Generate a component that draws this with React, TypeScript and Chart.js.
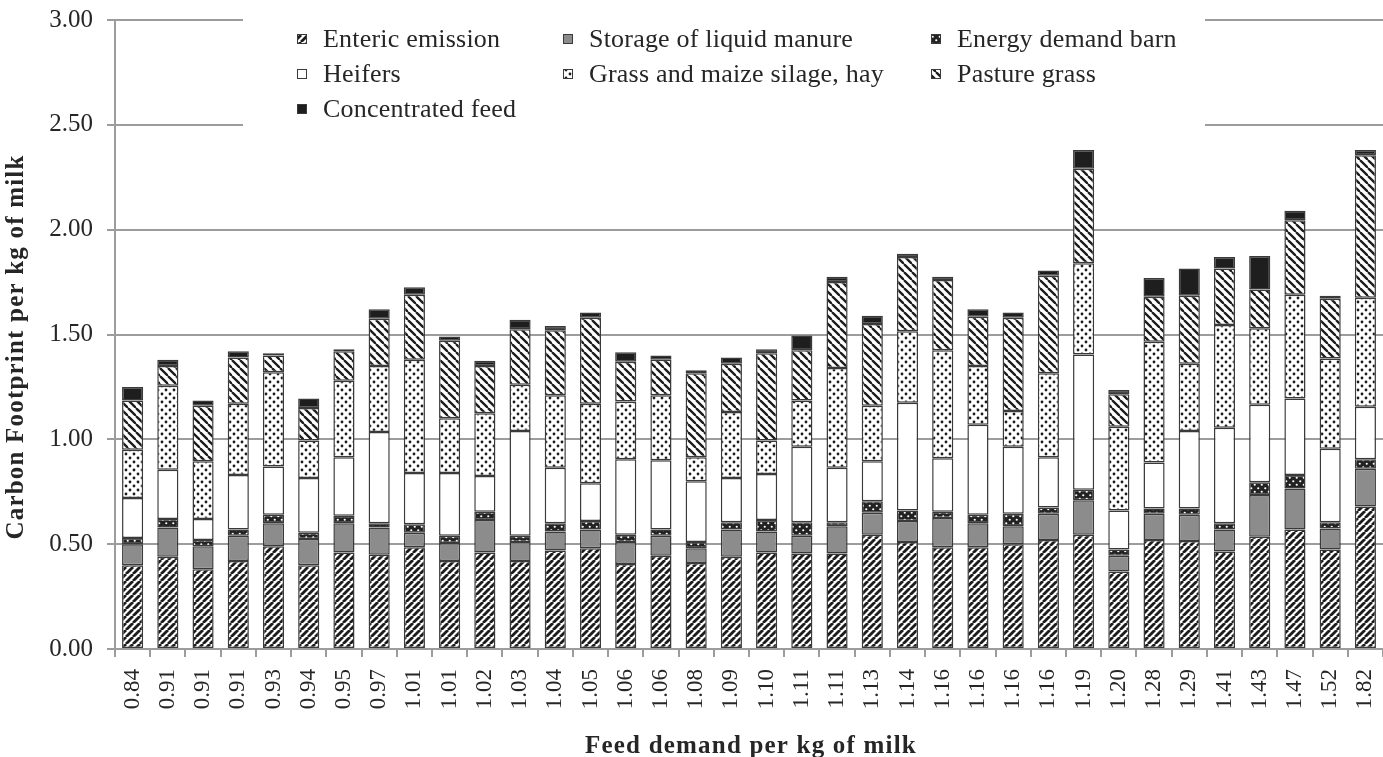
import React, { useEffect, useRef } from "react";
import { Chart, registerables } from "chart.js";

Chart.register(...registerables);

const feedDemand = ["0.84","0.91","0.91","0.91","0.93","0.94","0.95","0.97","1.01","1.01","1.02","1.03","1.04","1.05","1.06","1.06","1.08","1.09","1.10","1.11","1.11","1.13","1.14","1.16","1.16","1.16","1.16","1.19","1.20","1.28","1.29","1.41","1.43","1.47","1.52","1.82"];

const entericEmission = [0.40,0.44,0.38,0.42,0.49,0.40,0.46,0.45,0.485,0.42,0.46,0.42,0.47,0.48,0.405,0.445,0.41,0.44,0.46,0.455,0.455,0.545,0.51,0.485,0.485,0.50,0.52,0.545,0.37,0.52,0.515,0.465,0.535,0.57,0.475,0.68];
const storageLiquidManure = [0.10,0.14,0.11,0.12,0.11,0.125,0.14,0.13,0.07,0.085,0.155,0.09,0.09,0.09,0.105,0.095,0.07,0.13,0.10,0.085,0.13,0.105,0.10,0.14,0.115,0.085,0.125,0.165,0.075,0.125,0.125,0.105,0.20,0.195,0.10,0.18];
const energyDemandBarn = [0.03,0.04,0.03,0.03,0.04,0.03,0.035,0.02,0.04,0.035,0.04,0.03,0.04,0.04,0.035,0.03,0.03,0.035,0.055,0.065,0.02,0.055,0.05,0.03,0.04,0.06,0.03,0.05,0.03,0.025,0.03,0.03,0.06,0.065,0.03,0.045];
const heifers = [0.19,0.235,0.10,0.26,0.23,0.26,0.28,0.435,0.245,0.30,0.17,0.50,0.265,0.18,0.36,0.33,0.29,0.21,0.22,0.36,0.26,0.19,0.515,0.255,0.43,0.32,0.24,0.645,0.185,0.22,0.37,0.455,0.37,0.365,0.35,0.25];
const grassMaizeSilageHay = [0.23,0.40,0.275,0.34,0.45,0.18,0.365,0.315,0.54,0.26,0.30,0.22,0.345,0.38,0.275,0.31,0.115,0.315,0.16,0.22,0.475,0.265,0.34,0.515,0.28,0.17,0.40,0.435,0.40,0.575,0.32,0.49,0.365,0.495,0.43,0.52];
const pastureGrass = [0.235,0.095,0.265,0.22,0.08,0.155,0.14,0.225,0.31,0.37,0.225,0.265,0.31,0.41,0.19,0.17,0.40,0.23,0.415,0.24,0.41,0.39,0.355,0.335,0.235,0.445,0.465,0.45,0.155,0.215,0.325,0.27,0.185,0.355,0.285,0.68];
const concentratedFeed = [0.065,0.03,0.025,0.03,0.01,0.045,0.01,0.045,0.035,0.02,0.025,0.045,0.02,0.025,0.045,0.02,0.015,0.03,0.02,0.07,0.025,0.04,0.015,0.015,0.035,0.025,0.025,0.09,0.02,0.09,0.13,0.055,0.16,0.045,0.015,0.025];

const yTickValues = [0, 0.5, 1.0, 1.5, 2.0, 2.5, 3.0];

const seriesNames = [
  "Enteric emission",
  "Storage of liquid manure",
  "Energy demand barn",
  "Heifers",
  "Grass and maize silage, hay",
  "Pasture grass",
  "Concentrated feed",
];

const FONT = '"Liberation Serif", "Times New Roman", Times, serif';
const GRID = "#9c9c9c";
const TEXT = "#262626";
const EDGE = "#3a3a3a";

function makeHatch(ctx: CanvasRenderingContext2D, dir: number, p: number, lw: number) {
  const c = document.createElement("canvas");
  c.width = p; c.height = p;
  const g = c.getContext("2d")!;
  g.fillStyle = "#ffffff";
  g.fillRect(0, 0, p, p);
  g.strokeStyle = "#1c1c1c";
  g.lineWidth = lw;
  for (const o of [-p, 0, p]) {
    g.beginPath();
    if (dir > 0) { g.moveTo(o, p); g.lineTo(o + p, 0); }
    else { g.moveTo(o, 0); g.lineTo(o + p, p); }
    g.stroke();
  }
  return ctx.createPattern(c, "repeat")!;
}

function makeDots(ctx: CanvasRenderingContext2D, p: number, r: number, bg: string, fg: string) {
  const c = document.createElement("canvas");
  c.width = p; c.height = p;
  const g = c.getContext("2d")!;
  g.fillStyle = bg;
  g.fillRect(0, 0, p, p);
  g.fillStyle = fg;
  for (const [x, y] of [[p / 4, p / 4], [(3 * p) / 4, (3 * p) / 4]]) {
    g.beginPath();
    g.arc(x, y, r, 0, Math.PI * 2);
    g.fill();
  }
  return ctx.createPattern(c, "repeat")!;
}

export default function App() {
  const ref = useRef<HTMLCanvasElement>(null);

  useEffect(() => {
    const canvas = ref.current!;
    const ctx = canvas.getContext("2d")!;
    const fills: any[] = [
      makeHatch(ctx, 1, 7, 2.8),
      "#8c8c8c",
      makeDots(ctx, 7, 1.1, "#222222", "#ffffff"),
      "#ffffff",
      makeDots(ctx, 8, 1.4, "#ffffff", "#1c1c1c"),
      makeHatch(ctx, -1, 8, 2.3),
      "#1e1e1e",
    ];
    const values = [
      entericEmission,
      storageLiquidManure,
      energyDemandBarn,
      heifers,
      grassMaizeSilageHay,
      pastureGrass,
      concentratedFeed,
    ];

    const legendPos = [
      [297, 39], [563, 39], [931, 39],
      [297, 74], [563, 74], [931, 74],
      [297, 109],
    ];

    const overlay = {
      id: "overlay",
      afterDraw(chart: any) {
        const c = chart.ctx as CanvasRenderingContext2D;
        c.save();
        // legend box (white, hides grid lines)
        c.fillStyle = "#ffffff";
        c.fillRect(243, 8, 962, 126);
        c.textBaseline = "middle";
        c.textAlign = "left";
        c.font = `26px ${FONT}`;
        (c as any).letterSpacing = "0.2px";
        seriesNames.forEach((name, i) => {
          const [x, y] = legendPos[i];
          c.fillStyle = fills[i];
          c.fillRect(x, y - 5, 10, 10);
          c.strokeStyle = EDGE;
          c.lineWidth = 1;
          c.strokeRect(x + 0.5, y - 4.5, 9, 9);
          c.fillStyle = TEXT;
          c.fillText(name, x + 26, y + 1);
        });
        // axis titles
        c.font = `bold 25px ${FONT}`;
        (c as any).letterSpacing = "1.2px";
        c.fillStyle = TEXT;
        c.textAlign = "center";
        c.textBaseline = "alphabetic";
        c.fillText("Feed demand per kg of milk", 751, 753);
        c.translate(23, 347);
        c.rotate(-Math.PI / 2);
        c.fillText("Carbon Footprint per kg of milk", 0, 0);
        c.restore();
      },
    };

    const chart = new Chart(canvas, {
      type: "bar",
      data: {
        labels: feedDemand,
        datasets: seriesNames.map((name, i) => ({
          label: name,
          data: values[i],
          backgroundColor: fills[i],
          borderColor: EDGE,
          borderWidth: 1.5,
          borderSkipped: false,
          barPercentage: 0.6,
          categoryPercentage: 1.0,
        })),
      },
      options: {
        responsive: false,
        devicePixelRatio: 1,
        animation: false,
        layout: { padding: { top: 20, right: 0, left: 0, bottom: 0 } },
        plugins: { legend: { display: false }, tooltip: { enabled: false } },
        scales: {
          x: {
            stacked: true,
            grid: { drawOnChartArea: false, color: GRID, lineWidth: 2, tickLength: 8, offset: true },
            border: { display: true, color: GRID, width: 2 },
            ticks: {
              autoSkip: false,
              minRotation: 90,
              maxRotation: 90,
              padding: 12,
              color: TEXT,
              font: { family: FONT, size: 23 },
            },
            afterFit: (s: any) => {
              s.height = 108;
              s.paddingLeft = 0;
              s.paddingRight = 0;
            },
          } as any,
          y: {
            stacked: true,
            min: 0,
            max: 3,
            afterBuildTicks: (s: any) => {
              s.ticks = yTickValues.map((v) => ({ value: v }));
            },
            ticks: {
              padding: 14,
              color: TEXT,
              font: { family: FONT, size: 25 },
              callback: (v: any) => Number(v).toFixed(2),
            },
            grid: { color: GRID, lineWidth: 2, tickLength: 8 },
            border: { display: true, color: GRID, width: 2 },
            afterFit: (s: any) => {
              s.width = 115;
              s.paddingTop = 0;
              s.paddingBottom = 0;
            },
          } as any,
        },
      },
      plugins: [overlay],
    });

    return () => chart.destroy();
  }, []);

  return (
    <div style={{ position: "fixed", left: 0, top: 0, width: 1383, height: 757, background: "#ffffff" }}>
      <canvas ref={ref} width={1383} height={757} style={{ display: "block", width: 1383, height: 757 }} />
    </div>
  );
}
